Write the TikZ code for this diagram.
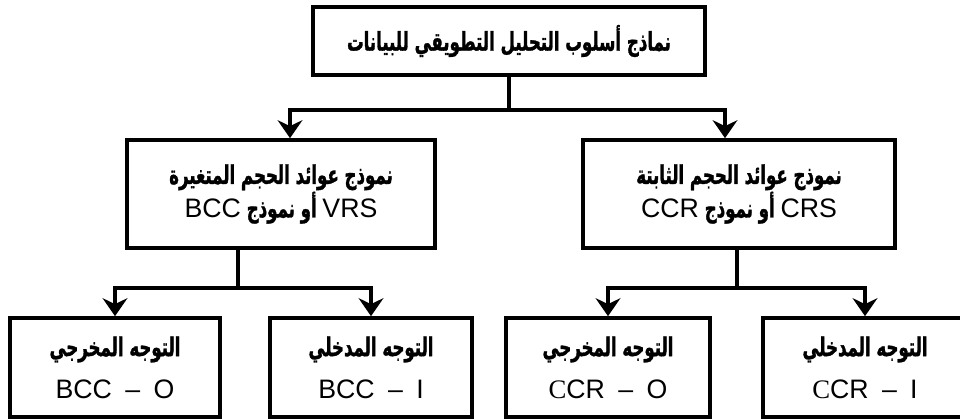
\documentclass[tikz,border=0pt]{standalone}
\usepackage{fontspec}
\setmainfont{Liberation Sans}
\newfontfamily\arabicfont[Script=Arabic, FakeStretch=0.64, Scale=0.97, FakeBold=1.2]{DejaVu Sans}
\newfontfamily\timesfont{Liberation Serif}
\TeXXeTstate=1
\usetikzlibrary{arrows.meta}
\newcommand{\artxt}[1]{{\arabicfont\bfseries\beginR #1\endR}}
\newcommand{\lat}[1]{\beginL{\normalfont #1}\endL}
\tikzset{
  box/.style={draw, line width=2.6pt, align=center, inner sep=0pt, font=\fontsize{19}{22}\selectfont},
  link/.style={line width=2.6pt},
  arr/.style={link, -{Stealth[length=0.45cm, width=0.62cm, inset=0.15cm]}},
}

\begin{document}
\begin{tikzpicture}
    \useasboundingbox (0,0) rectangle (24,10.45);
    % levels
    \node[box, minimum width=9.8cm, minimum height=1.7cm] (top) at (12.725,9.425) {\artxt{نماذج أسلوب التحليل التطويقي للبيانات}};
    \node[box, minimum width=7.7cm, minimum height=2.7cm] (vrs) at (7.025,5.6)
        {\artxt{نموذج عوائد الحجم المتغيرة}\\ \artxt{\lat{VRS} أو نموذج \lat{BCC}}};
    \node[box, minimum width=7.8cm, minimum height=2.7cm] (crs) at (18.475,5.6)
        {\artxt{نموذج عوائد الحجم الثابتة}\\ \artxt{\lat{CRS} أو نموذج \lat{CCR}}};
    \node[box, minimum width=5.25cm, minimum height=2.475cm] (bccO) at (2.875,1.2625) {\artxt{التوجه المخرجي}\\[8pt] BCC\enspace–\enspace O};
    \node[box, minimum width=5.05cm, minimum height=2.475cm] (bccI) at (9.275,1.2625) {\artxt{التوجه المدخلي}\\[8pt] BCC\enspace–\enspace I};
    \node[box, minimum width=5.1cm, minimum height=2.475cm] (ccrO) at (15.2,1.2625) {\artxt{التوجه المخرجي}\\[8pt] {\timesfont C}CR\enspace–\enspace O};
    \node[box, minimum width=5.1cm, minimum height=2.475cm] (ccrI) at (21.625,1.2625) {\artxt{التوجه المدخلي}\\[8pt] {\timesfont C}CR\enspace–\enspace I};
    % junctions
    \coordinate (j0) at (12.725,7.7);
    \coordinate (j1) at (5.95,3.25);
    \coordinate (j2) at (18.425,3.25);
    \draw[link] (top.south) -- (j0);
    \draw[arr] (j0) -| ([xshift=0.225cm]vrs.north);
    \draw[arr] (j0) -| ([xshift=-0.35cm]crs.north);
    \draw[link] (vrs.south -| j1) -- (j1);
    \draw[arr] (j1) -| (bccO.north);
    \draw[arr] (j1) -| (bccI.north);
    \draw[link] (crs.south -| j2) -- (j2);
    \draw[arr] (j2) -| (ccrO.north);
    \draw[arr] (j2) -| (ccrI.north);
\end{tikzpicture}
\end{document}
